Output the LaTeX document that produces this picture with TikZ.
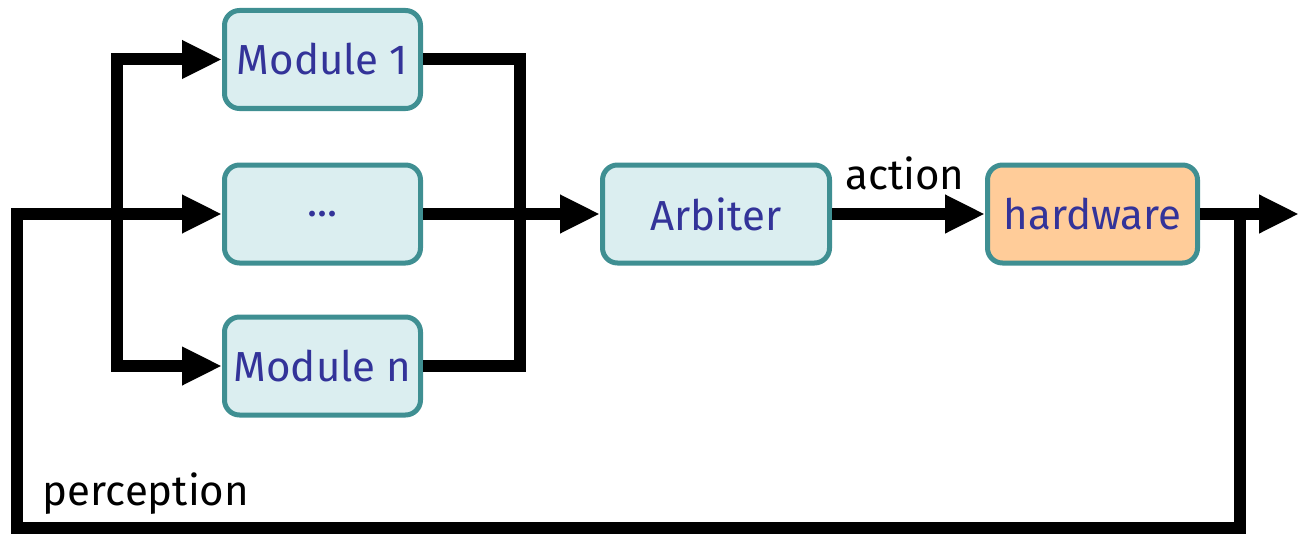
\documentclass[tikz,border=0pt]{standalone}
\usepackage{fontspec}
\setmainfont{Fira Sans}
\usetikzlibrary{arrows.meta}
\definecolor{boxline}{HTML}{3F8F92}
\definecolor{boxfill}{HTML}{DBEEF0}
\definecolor{hwfill}{HTML}{FFCC99}
\definecolor{txtblue}{HTML}{333399}
\tikzset{
  modbox/.style={draw=boxline, line width=2.5pt, fill=boxfill, rounded corners=7.5pt,
    minimum width=98pt, minimum height=49pt, inner sep=0pt, text=txtblue,
    font=\fontsize{21}{25}\selectfont},
  flow/.style={line width=6pt, line join=miter},
  arr/.style={flow, -{Triangle[length=20pt,width=18pt]}},
  lbl/.style={font=\fontsize{21}{25}\selectfont, text=black, inner sep=0pt}
}
\begin{document}
\begin{tikzpicture}[x=0.5pt,y=-0.5pt]
\useasboundingbox (0,0) rectangle (1299,535);
\node[modbox] (m1) at (322.5,59.5) {Module 1};
\node[modbox] (dots) at (322.5,214) {...};
\node[modbox] (mn) at (322.5,366) {Module n};
\node[modbox, minimum width=113.5pt] (arb) at (716,214) {Arbiter};
\node[modbox, minimum width=105pt, fill=hwfill] (hw) at (1092.5,214) {hardware};
\node[lbl] (act) at (905,173) {action};
\node[lbl] (perc) at (146,494) {perception};
\coordinate (b1) at (117,59.5);
\coordinate (bn) at (117,366);
\coordinate (mx) at (520,214);
\coordinate (out) at (1299,214);
\coordinate (tap) at (1240,214);
\coordinate (fbR) at (1240,528);
\coordinate (fbL) at (17,528);
\coordinate (fbT) at (17,214);
% branches to modules
\draw[arr] (bn) |- (m1.west);
\draw[arr] (b1) |- (mn.west);
% feedback loop
\draw[arr] (tap) -- (fbR) -- (fbL) -- (fbT) -- (dots.west);
% merge of module outputs
\draw[flow] (m1.east) -| (mx) |- (mn.east);
\draw[arr] (dots.east) -- (arb.west);
\draw[arr] (arb.east) -- (hw.west);
\draw[arr] (hw.east) -- (out);
\end{tikzpicture}
\end{document}
